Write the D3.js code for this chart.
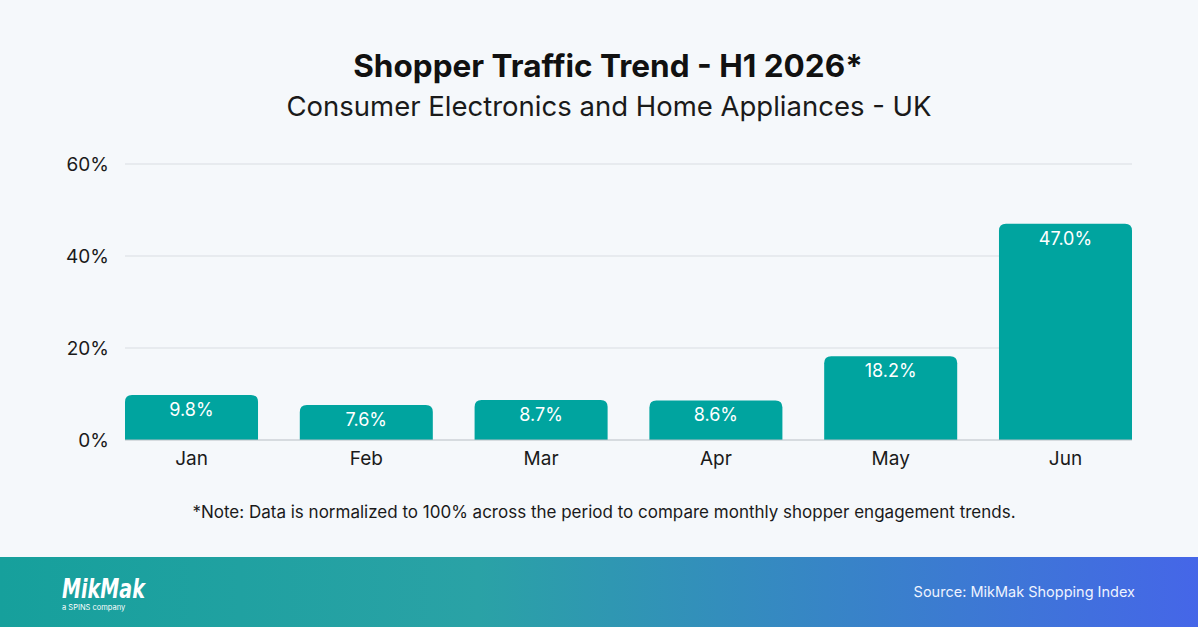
<!DOCTYPE html>
<html>
<head>
<meta charset="utf-8">
<script src="https://cdn.jsdelivr.net/npm/d3@7"></script>
<style>
  html, body { margin: 0; padding: 0; background: #f5f8fb; }
  svg { display: block; font-family: Inter, "Noto Sans", sans-serif; }
</style>
</head>
<body>
<div id="chart"></div>
<script>
const months = ["Jan", "Feb", "Mar", "Apr", "May", "Jun"];
const shares = [9.8, 7.6, 8.7, 8.6, 18.2, 47.0];
const yTicks = [0, 20, 40, 60];

const W = 1198, H = 627;
const svg = d3.select("#chart").append("svg")
    .attr("width", W)
    .attr("height", H);

const defs = svg.append("defs");
const grad = defs.append("linearGradient")
    .attr("id", "footGrad")
    .attr("x1", "0%").attr("y1", "0%")
    .attr("x2", "100%").attr("y2", "0%");
grad.append("stop").attr("offset", "0%").attr("stop-color", "#16a09c");
grad.append("stop").attr("offset", "40%").attr("stop-color", "#2aa2a6");
grad.append("stop").attr("offset", "100%").attr("stop-color", "#4566e8");

svg.append("rect").attr("width", W).attr("height", H).attr("fill", "#f5f8fb");

// titles
svg.append("text")
    .attr("x", 608).attr("y", 77)
    .attr("text-anchor", "middle")
    .attr("font-size", 31.5).attr("font-weight", 700)
    .attr("fill", "#111")
    .text("Shopper Traffic Trend - H1 2026*");
svg.append("text")
    .attr("x", 609).attr("y", 116)
    .attr("text-anchor", "middle")
    .attr("font-size", 27.5)
    .attr("fill", "#1a1a1a")
    .text("Consumer Electronics and Home Appliances - UK");

const x = d3.scaleBand().domain(months).range([125, 1132]).paddingInner(0.239).paddingOuter(0);
const y = d3.scaleLinear().domain([0, 60]).range([440, 164]);

const g = svg.append("g");

// gridlines
g.selectAll(".grid").data(yTicks.filter(d => d > 0)).join("line")
    .attr("x1", 125).attr("x2", 1132)
    .attr("y1", d => y(d)).attr("y2", d => y(d))
    .attr("stroke", "#d9dde2").attr("stroke-width", 1);

// y axis
const yAxis = g.append("g")
    .attr("transform", "translate(112,0)")
    .call(d3.axisLeft(y).tickValues(yTicks).tickSize(0).tickFormat(d => d + "%"));
yAxis.select(".domain").remove();
yAxis.selectAll("text")
    .attr("font-size", 19).attr("fill", "#1a1a1a")
    .attr("font-family", "Inter, sans-serif");

// bars with rounded tops
const r = 7;
function barPath(d, i) {
    const x0 = x(months[i]), w = x.bandwidth();
    const top = y(d), bot = y(0);
    return `M${x0},${bot}V${top + r}Q${x0},${top} ${x0 + r},${top}H${x0 + w - r}Q${x0 + w},${top} ${x0 + w},${top + r}V${bot}Z`;
}
g.selectAll(".bar").data(shares).join("path")
    .attr("d", barPath)
    .attr("fill", "#00a49f");

// baseline
g.append("line")
    .attr("x1", 125).attr("x2", 1132)
    .attr("y1", y(0)).attr("y2", y(0))
    .attr("stroke", "#b8bec4").attr("stroke-width", 1);

// value labels
g.selectAll(".val").data(shares).join("text")
    .attr("x", (d, i) => x(months[i]) + x.bandwidth() / 2)
    .attr("y", d => y(d) + 21)
    .attr("text-anchor", "middle")
    .attr("font-size", 18)
    .attr("fill", "#ffffff")
    .text(d => d.toFixed(1) + "%");

// x axis
const xAxis = g.append("g")
    .attr("transform", `translate(0,${y(0)})`)
    .call(d3.axisBottom(x).tickSize(0).tickPadding(12));
xAxis.select(".domain").remove();
xAxis.selectAll("text")
    .attr("font-size", 19).attr("fill", "#1a1a1a")
    .attr("font-family", "Inter, sans-serif");

// note
svg.append("text")
    .attr("x", 604).attr("y", 518)
    .attr("text-anchor", "middle")
    .attr("font-size", 17)
    .attr("fill", "#1a1a1a")
    .text("*Note: Data is normalized to 100% across the period to compare monthly shopper engagement trends.");

// footer
svg.append("rect")
    .attr("x", 0).attr("y", 557)
    .attr("width", W).attr("height", H - 557)
    .attr("fill", "url(#footGrad)");

svg.append("text")
    .attr("x", 62).attr("y", 598)
    .attr("font-size", 26).attr("font-weight", 700)
    .attr("font-style", "italic")
    .attr("fill", "#ffffff")
    .attr("textLength", 83)
    .attr("lengthAdjust", "spacingAndGlyphs")
    .attr("font-family", "'DejaVu Sans', sans-serif")
    .text("MikMak");
svg.append("text")
    .attr("x", 62).attr("y", 610)
    .attr("font-size", 7.5)
    .attr("fill", "#ffffff")
    .text("a SPINS company");

svg.append("text")
    .attr("x", 1135).attr("y", 597)
    .attr("text-anchor", "end")
    .attr("font-size", 14.5)
    .attr("fill", "#eef3ff")
    .text("Source: MikMak Shopping Index");
</script>
</body>
</html>
